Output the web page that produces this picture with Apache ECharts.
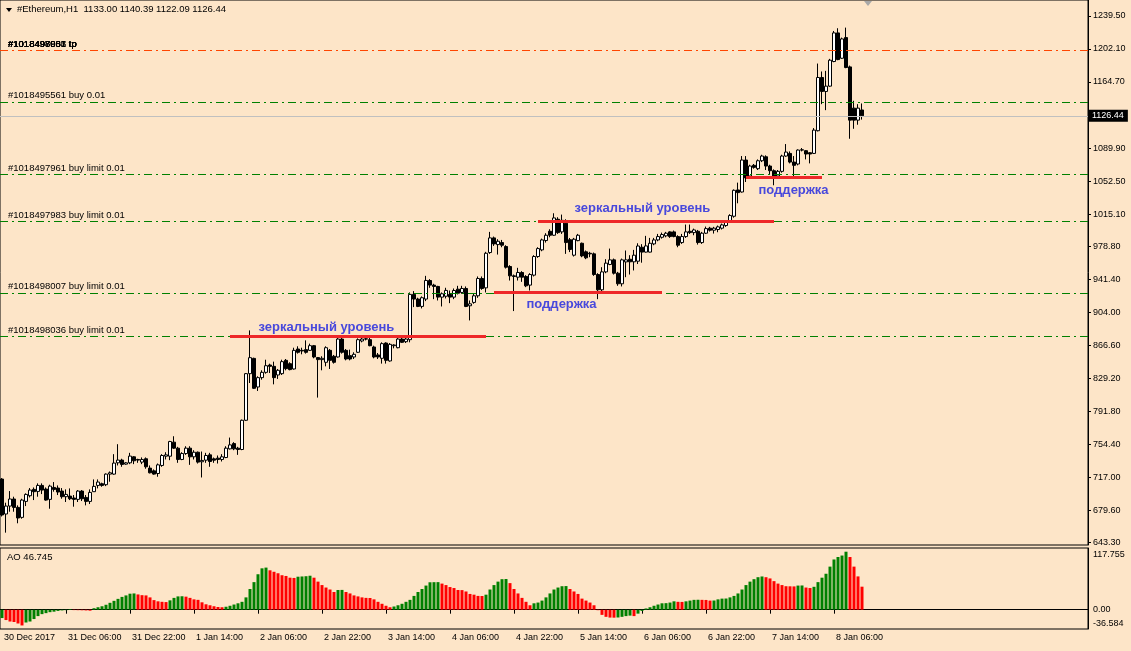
<!DOCTYPE html>
<html><head><meta charset="utf-8">
<script src="https://cdn.jsdelivr.net/npm/echarts@6/dist/echarts.min.js"></script>
<style>html,body{margin:0;padding:0;background:#FDE5C8;}#chart{width:1131px;height:651px;}</style>
</head><body><div id="chart"></div>
<script>
const symbolName = '#Ethereum,H1';
const firstBarUTC = Date.UTC(2017, 11, 30, 14);
const slotCount = 272;

const openP = [
714.9,675.3,684.3,692.3,682.8,671.5,689.6,696.0,703.2,700.9,
707.7,703.6,691.9,705.4,704.7,701.3,694.9,695.6,693.4,691.9,
701.3,694.1,689.6,700.6,707.7,709.6,708.5,720.5,720.5,733.3,
736.4,731.8,733.3,740.1,737.1,734.1,737.9,727.3,724.2,721.2,
730.3,740.8,740.8,756.7,749.9,737.1,743.8,749.9,740.1,745.3,
734.5,736.3,742.3,737.8,738.6,737.1,739.3,749.1,755.1,749.9,
748.4,781.5,834.3,851.6,819.2,829.8,835.8,844.1,842.6,832.8,
834.3,849.4,845.6,839.6,862.2,860.7,861.5,860.7,866.0,852.5,
850.2,847.2,860.7,854.0,853.2,873.5,860.7,854.7,853.2,858.5,
871.3,873.5,872.8,864.5,855.5,851.7,869.0,848.7,866.0,863.7,
873.5,870.5,872.8,924.1,918.8,910.5,918.8,939.8,934.6,933.1,
921.0,922.0,924.0,921.0,930.0,926.3,930.8,911.2,915.0,922.5,
942.1,931.5,971.5,988.1,980.5,982.8,978.3,955.7,945.1,943.6,
948.9,944.4,934.6,945.9,967.0,974.5,985.1,995.6,991.1,1009.2,
994.9,1004.7,986.0,968.5,985.0,982.0,972.3,970.7,970.0,946.6,
929.3,949.6,958.0,963.2,948.1,936.1,960.9,963.9,961.0,961.7,
977.5,972.0,972.0,981.3,985.8,988.8,990.4,994.9,994.9,989.6,
982.8,989.6,995.6,994.1,995.6,982.8,993.4,999.1,996.8,997.6,
999.1,1002.1,1006.6,1012.6,1042.4,1040.1,1076.3,1058.2,1070.3,1066.5,
1075.5,1080.0,1069.5,1064.2,1058.2,1063.5,1080.8,1083.8,1074.0,1071.8,
1087.6,1086.9,1084.6,1083.8,1109.5,1169.8,1154.0,1160.0,1187.9,1220.3,
1191.6,1215.0,1181.8,1135.1,1121.5,1133.00];

const highP = [
716.0,688.1,701.3,694.9,685.1,692.6,698.7,704.7,705.4,710.0,
710.0,705.4,708.5,711.5,707.7,704.7,703.2,704.3,696.8,702.4,
702.4,696.8,703.2,714.5,714.5,710.8,721.3,723.5,743.1,754.4,
737.9,734.1,744.6,740.9,737.9,739.4,739.4,730.3,725.8,732.5,
743.1,745.3,758.2,763.4,751.4,745.3,752.1,752.1,747.6,746.1,
746.1,744.6,744.6,739.3,741.6,743.1,752.1,761.9,756.7,751.4,
782.3,835.0,883.3,852.4,831.3,838.1,850.1,845.6,847.9,839.6,
850.1,850.9,847.2,863.7,865.3,863.7,872.0,868.3,866.8,853.2,
854.0,865.3,862.2,855.5,875.1,875.8,862.2,861.5,858.5,874.3,
876.6,877.3,877.3,866.0,857.7,869.8,869.8,869.0,867.5,875.8,
875.8,875.1,926.3,927.8,920.3,921.8,945.1,941.4,936.1,933.8,
926.3,931.6,928.5,930.8,933.8,933.8,933.1,917.2,924.8,944.4,
944.4,972.3,994.9,989.6,986.6,985.8,979.8,957.2,946.6,954.2,
950.4,945.9,948.1,968.5,977.5,987.3,993.4,997.9,1016.0,1011.5,
1014.5,1009.2,988.0,988.1,992.6,982.8,973.8,972.3,971.5,948.1,
954.9,964.0,976.0,964.7,949.6,964.7,973.8,968.5,974.5,982.0,
981.0,990.4,988.1,988.1,992.6,994.1,994.9,995.6,996.4,991.1,
992.6,1003.2,1003.2,998.6,997.1,994.9,1000.9,1000.6,1000.6,1002.1,
1004.3,1008.1,1014.9,1043.0,1050.7,1080.8,1080.8,1071.0,1071.8,1077.0,
1082.3,1081.6,1071.0,1065.7,1065.0,1082.3,1094.4,1086.1,1080.8,1088.4,
1089.9,1087.6,1085.3,1112.5,1185.6,1176.6,1177.3,1190.9,1222.5,1225.6,
1215.0,1226.3,1183.3,1143.4,1139.6,1140.39];

const lowP = [
672.5,654.2,677.9,677.9,664.8,670.0,684.3,694.1,691.1,694.9,
697.9,690.4,681.3,700.6,696.8,692.6,688.9,691.1,683.6,688.9,
690.0,685.1,686.6,700.6,704.3,706.2,706.9,711.9,719.8,730.3,
728.8,731.1,731.8,731.8,733.3,731.8,726.6,721.3,719.8,717.5,
728.8,737.1,736.3,749.1,733.3,736.3,742.3,731.0,737.1,732.5,
716.7,733.3,728.8,733.3,732.5,734.8,738.6,748.4,747.6,742.3,
747.6,780.8,823.7,817.0,814.7,827.5,834.3,835.0,822.2,828.3,
832.8,838.1,838.1,838.9,857.0,856.2,857.0,860.0,851.7,807.2,
838.1,842.6,839.6,845.7,852.5,857.0,849.4,849.4,850.9,857.7,
869.8,872.0,865.3,851.7,850.9,845.7,845.7,847.9,863.0,863.0,
869.0,869.0,869.8,909.7,909.7,908.2,916.5,931.6,918.7,917.2,
910.4,919.5,914.2,918.7,924.0,924.8,909.7,894.6,913.5,920.2,
929.3,926.3,970.0,979.0,969.2,977.5,953.4,939.8,905.2,939.8,
938.3,932.3,928.5,944.4,965.5,973.0,982.8,988.8,990.4,992.6,
992.6,970.0,972.0,967.0,984.3,966.2,964.0,966.2,945.1,918.7,
927.8,948.1,957.2,946.6,933.8,933.1,943.6,946.6,951.2,958.5,
960.0,971.5,971.5,979.8,984.3,987.3,988.8,988.1,988.8,977.5,
981.3,988.1,992.6,991.1,980.5,981.3,992.6,995.3,993.0,994.5,
997.6,1000.6,1005.0,1011.0,1027.3,1039.4,1051.4,1056.7,1066.5,1065.0,
1074.0,1065.0,1059.7,1047.7,1056.7,1062.0,1080.0,1072.5,1058.2,1070.3,
1086.1,1077.0,1072.5,1083.1,1108.7,1139.6,1132.8,1159.2,1187.1,1189.4,
1190.9,1180.3,1100.4,1111.7,1116.3,1122.09];

const closeP = [
674.2,684.3,692.3,682.8,670.8,691.1,697.5,702.4,700.6,707.7,
702.4,691.1,706.9,703.2,700.2,694.9,697.5,692.6,691.9,701.3,
692.6,689.6,699.8,706.6,711.5,707.7,720.5,722.0,733.0,736.4,
731.5,733.3,740.9,735.6,736.4,737.1,728.8,722.0,720.5,731.0,
741.6,742.3,757.4,749.9,737.1,743.8,749.9,740.1,745.3,734.1,
736.0,741.6,734.8,736.3,737.1,740.1,749.9,753.6,749.1,748.4,
781.5,834.3,852.4,817.7,829.8,835.8,843.3,842.6,829.8,838.1,
847.9,840.0,838.9,860.7,858.5,860.0,858.5,866.0,853.2,850.2,
851.7,863.7,849.4,847.2,873.5,858.5,850.9,850.9,856.2,872.8,
873.5,873.8,866.0,853.2,853.2,868.3,849.4,867.5,866.8,873.5,
869.8,873.5,924.1,918.8,910.5,920.3,939.9,934.6,933.1,921.0,
924.8,928.6,921.0,928.5,925.5,930.8,910.4,913.4,922.5,942.1,
930.8,970.7,988.1,981.3,984.3,979.8,954.9,945.1,944.4,948.9,
943.6,933.8,946.6,967.0,976.0,985.8,991.1,991.1,1010.7,994.1,
1008.0,982.8,975.0,986.6,991.1,967.7,965.5,970.0,946.6,929.3,
949.6,959.5,963.2,948.1,936.1,963.2,963.2,961.0,968.5,978.9,
972.0,979.0,982.0,985.8,989.6,991.9,993.4,989.6,989.6,979.8,
989.6,994.9,994.1,997.1,982.8,993.4,998.6,996.8,999.1,1000.6,
1002.8,1006.6,1013.4,1042.0,1039.4,1076.3,1056.0,1069.5,1068.0,1075.5,
1080.8,1069.5,1064.2,1058.2,1063.5,1080.8,1085.3,1074.0,1070.3,1087.6,
1087.9,1083.1,1083.1,1110.2,1169.8,1154.0,1160.0,1189.4,1220.3,1190.1,
1213.5,1181.1,1121.5,1121.5,1135.1,1126.44];

const aoValues = [
-17,-21,-24,-25,-28,-32,-26,-24,-19,-13,
-9,-7,-5,-4,-2.5,-1.5,-1,1.3,-0.8,-1.0,
-1.2,-1.5,-2,3,5,7,10,14,18,22,
26,29,32.5,33,31,29.5,29,25,19.5,17,
16,15.5,19,24,27,27.3,26.5,24,21,20,
15,11,9,7,5.5,5,6,8,10.5,13,
16,25,42,56,72,84,85.5,80,77,74,
70,68.5,65,64.5,67,67.5,68,69,65,57,
50,45,41,36,40,40.2,36,33,29,27,
25,24,23.8,21,16,12,8,5,6.5,9,
12,16,20,28,36,42,49,55.7,55.9,56,
53,50,46,44,40,39.8,37,32,30.5,28,
27.8,30.5,41,50,57,62,62.3,54,42,33,
24,16,9,13,14.5,18.5,25,33,41,45,
47.7,48,42,37,32,22.5,18.5,14.5,9,-1,
-10.5,-14.5,-16,-16.2,-15.8,-14.5,-13,-12,-13,-8,
-2.5,2.5,5,8,10.5,13,13.3,14.5,17,16,
15.8,17,18.5,20,20.2,20,19.8,18.5,18.7,21,
22.5,22.7,25,28,33,41,50,57,62,66,
67.5,66,63.5,58,53,50,47.7,47.5,47.3,49,
49.2,45,44,46.5,56,65,73,87.5,102,107,
110,117.755,107,87.5,67.6,46.745];

const priceTicks = [1239.5,1202.1,1164.7,1089.9,1052.5,1015.1,978.8,941.4,904.0,866.6,829.2,791.8,754.4,717.0,679.6,643.3];
const aoTicks = [117.755, 0, -36.584];
const timeTickLabels = ['30 Dec 2017','31 Dec 06:00','31 Dec 22:00','1 Jan 14:00','2 Jan 06:00','2 Jan 22:00','3 Jan 14:00','4 Jan 06:00','4 Jan 22:00','5 Jan 14:00','6 Jan 06:00','6 Jan 22:00','7 Jan 14:00','8 Jan 06:00'];

const orderPrices = [1142.3, 1060.5, 1006.6, 925.9, 876.9];
const orderLabels = ['#1018495561 buy 0.01','#1018497961 buy limit 0.01','#1018497983 buy limit 0.01','#1018498007 buy limit 0.01','#1018498036 buy limit 0.01'];
const tpPrice = 1200.7;
const tpLabels = ['#1018495561 tp','#1018497961 tp','#1018497983 tp','#1018498007 tp','#1018498036 tp'];

const levelNames = ['зеркальный уровень','поддержка','зеркальный уровень','поддержка'];
const levelPrices = [876.5, 926.8, 1007.0, 1056.3];
const levelFrom = [57, 123, 134, 186];
const levelTo = [121, 165, 193, 205];
const levelTextBar = [64, 131, 143, 189];
const levelTextPrice = [886.7, 912.7, 1021.3, 1041.6];

const MONTHS = ['Jan','Feb','Mar','Apr','May','Jun','Jul','Aug','Sep','Oct','Nov','Dec'];
const cats = [];
for (let i = 0; i < slotCount; i++) {
  const d = new Date(firstBarUTC + i * 3600000);
  cats.push(d.getUTCDate() + ' ' + MONTHS[d.getUTCMonth()] + ' ' + String(d.getUTCHours()).padStart(2,'0') + ':00');
}
const nBars = openP.length;
const candleData = openP.map((o, i) => [o, closeP[i], lowP[i], highP[i]]);
const aoData = aoValues.map((v, i) => ({
  value: v,
  itemStyle: { color: (i === 0 || v > aoValues[i - 1]) ? '#008000' : '#FF0000' }
}));
const last = nBars - 1;
const header = symbolName + '  ' + [openP[last], highP[last], lowP[last], closeP[last]].map(v => v.toFixed(2)).join(' ');

const FONT = '"Liberation Sans", Arial, sans-serif';
const dashDot = [8, 4, 2, 4];
const isTick = (idx) => idx % 16 === 0 && idx / 16 < timeTickLabels.length;

const markLines = [];
tpLabels.forEach(t => markLines.push({
  yAxis: tpPrice,
  lineStyle: { color: '#FF4500', type: dashDot, width: 1 },
  label: { show: true, position: 'insideStartTop', formatter: t, color: '#000', fontSize: 9.5, fontFamily: FONT, distance: [8, 1] }
}));
orderPrices.forEach((p, k) => markLines.push({
  yAxis: p,
  lineStyle: { color: '#008000', type: dashDot, width: 1 },
  label: { show: true, position: 'insideStartTop', formatter: orderLabels[k], color: '#000', fontSize: 9.5, fontFamily: FONT, distance: [8, 1] }
}));
markLines.push({
  yAxis: closeP[last],
  lineStyle: { color: '#C0C0C0', type: 'solid', width: 1 },
  label: { show: true, position: 'end', formatter: closeP[last].toFixed(2), color: '#fff', backgroundColor: '#000', padding: [2, 4, 1, 4], distance: 0, fontSize: 9, fontFamily: FONT }
});
levelPrices.forEach((p, k) => markLines.push([
  { coord: [levelFrom[k], p], lineStyle: { color: '#EE2828', type: 'solid', width: 3 }, label: { show: false } },
  { coord: [levelTo[k], p] }
]));

const markPoints = levelNames.map((n, k) => ({ name: n, coord: [levelTextBar[k], levelTextPrice[k]] }));

const chart = echarts.init(document.getElementById('chart'), null, { renderer: 'canvas', width: 1131, height: 651 });
chart.setOption({
  animation: false,
  backgroundColor: '#FDE5C8',
  textStyle: { fontFamily: FONT },
  title: [
    { text: header, left: 17, top: 4, padding: 0, textStyle: { fontSize: 9.5, fontWeight: 'normal', color: '#000', fontFamily: FONT } },
    { text: 'AO ' + aoValues[last].toFixed(3), left: 7, top: 552, padding: 0, textStyle: { fontSize: 9.5, fontWeight: 'normal', color: '#000', fontFamily: FONT } }
  ],
  graphic: [
    { type: 'polygon', shape: { points: [[6, 8], [12, 8], [9, 12]] }, style: { fill: '#000' } },
    { type: 'polygon', shape: { points: [[864, 1], [872, 1], [868, 6]] }, style: { fill: '#A8A8A8' } }
  ],
  grid: [
    { left: 0, top: -1, width: 1088, height: 546, show: true, borderColor: '#000', borderWidth: 1, backgroundColor: 'transparent' },
    { left: 0, top: 548, width: 1088, height: 81, show: true, borderColor: '#000', borderWidth: 1, backgroundColor: 'transparent' }
  ],
  xAxis: [
    { type: 'category', gridIndex: 0, data: cats, boundaryGap: true, axisLine: { show: false }, axisTick: { show: false }, axisLabel: { show: false }, splitLine: { show: false } },
    { type: 'category', gridIndex: 1, data: cats, boundaryGap: true,
      axisLine: { show: true, lineStyle: { color: '#000' } },
      axisTick: { show: true, interval: isTick, alignWithLabel: true, length: 4, lineStyle: { color: '#000' } },
      axisLabel: { show: true, interval: isTick, formatter: (v, idx) => isTick(idx) ? timeTickLabels[idx / 16] : '', align: 'left', padding: [0, 0, 0, 2], margin: 4, fontSize: 9, color: '#000', fontFamily: FONT },
      splitLine: { show: false } }
  ],
  yAxis: [
    { type: 'value', gridIndex: 0, position: 'right', min: 640.2, max: 1257.59,
      axisLine: { show: true, lineStyle: { color: '#000' } },
      axisTick: { show: true, customValues: priceTicks, length: 3, lineStyle: { color: '#000' } },
      axisLabel: { show: true, customValues: priceTicks, formatter: v => v.toFixed(2), margin: 5, fontSize: 9, color: '#000', fontFamily: FONT },
      splitLine: { show: false } },
    { type: 'value', gridIndex: 1, position: 'right', min: -39.2, max: 125.3,
      axisLine: { show: true, lineStyle: { color: '#000' } },
      axisTick: { show: false },
      axisLabel: { show: true, customValues: aoTicks, margin: 5, fontSize: 9, color: '#000', fontFamily: FONT,
        formatter: v => v === aoTicks[0] ? '{t|' + v.toFixed(3) + '}' : (v === aoTicks[2] ? '{b|' + v.toFixed(3) + '}' : v.toFixed(2)),
        rich: { t: { fontSize: 9, padding: [5, 0, 0, 0] }, b: { fontSize: 9, padding: [0, 0, 9, 0] } } },
      splitLine: { show: false } }
  ],
  series: [
    { type: 'candlestick', name: 'price', xAxisIndex: 0, yAxisIndex: 0, data: candleData, barWidth: 3,
      itemStyle: { color: '#FFFFFF', color0: '#000000', borderColor: '#000000', borderColor0: '#000000', borderWidth: 1 },
      markLine: { silent: true, symbol: ['none', 'none'], animation: false, data: markLines },
      markPoint: { silent: true, symbol: 'rect', symbolSize: 1, itemStyle: { color: 'rgba(0,0,0,0)' }, data: markPoints,
        label: { show: true, position: 'right', distance: 0, formatter: p => p.name, color: '#4848DC', fontWeight: 'bold', fontSize: 13, fontFamily: FONT } }
    },
    { type: 'bar', name: 'AO', xAxisIndex: 1, yAxisIndex: 1, data: aoData, barWidth: 3 }
  ]
});
</script>
</body></html>
